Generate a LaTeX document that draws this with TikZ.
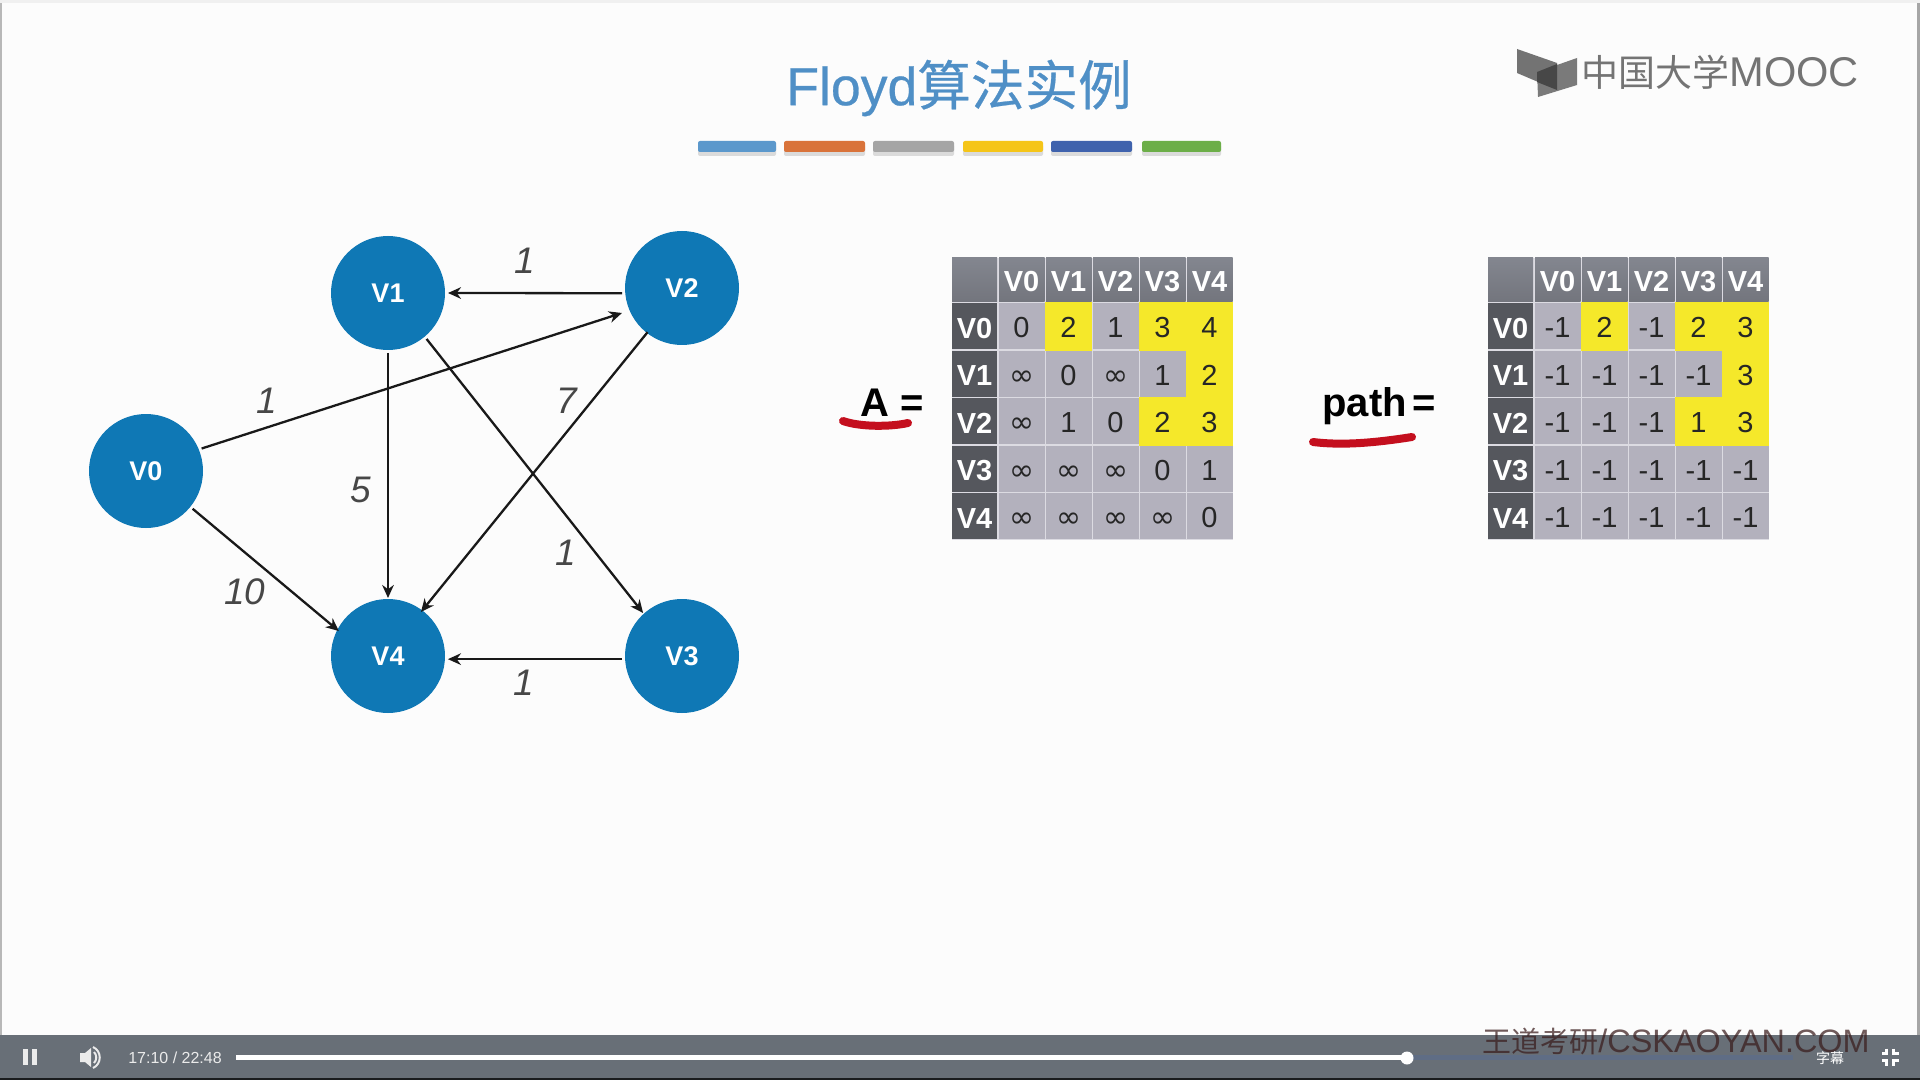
\documentclass[tikz,border=0pt]{standalone}
\usepackage{fontspec}
\setmainfont{Liberation Sans}
\newfontfamily\cjk{Noto Sans CJK SC}
\newfontfamily\cjkheavy[FakeBold=0.5]{Noto Sans CJK SC}
\newfontfamily\titlefont[FakeBold=0.5]{Liberation Sans}
\newfontfamily\dejavu{DejaVu Sans}
\usetikzlibrary{arrows.meta,calc}
\definecolor{nodeblue}{HTML}{0F78B5}
\definecolor{titleblue}{HTML}{4F8FC6}
\definecolor{cellbody}{HTML}{B3B1BD}
\definecolor{cellyellow}{HTML}{F5E82A}
\definecolor{headtop}{HTML}{83868F}
\definecolor{headbot}{HTML}{73757D}
\definecolor{rowhead}{HTML}{55575D}
\definecolor{gridline}{HTML}{DCDBE2}
\definecolor{barbg}{HTML}{686F77}
\definecolor{bufferbar}{HTML}{5F6D85}
\definecolor{inkred}{HTML}{C40F1E}
\definecolor{logogray}{HTML}{747474}
\definecolor{markink}{HTML}{3A1C1C}
\newcommand\infsym{{\dejavu\fontsize{15}{15}\selectfont ∞}}
\tikzset{
  vertex/.style={circle,fill=nodeblue,text=white,minimum size=57pt,inner sep=0pt,outer sep=1.5pt,font=\fontsize{13.5}{13.5}\selectfont\bfseries},
  edge/.style={draw=black!90,line width=1.15pt,-{Stealth[length=6.5pt,width=5.8pt]}},
  weight/.style={font=\fontsize{18.5}{18.5}\selectfont\itshape,text=black!72,inner sep=0pt},
  headtext/.style={font=\fontsize{14.5}{14.5}\selectfont\bfseries,text=white,inner sep=0pt,anchor=base},
  celltext/.style={font=\fontsize{14.5}{14.5}\selectfont,text=black!85,inner sep=0pt,anchor=base},
  eqtext/.style={font=\fontsize{20}{20}\selectfont\bfseries,text=black,inner sep=0pt,anchor=base west},
  barblock/.style={rounded corners=1pt},
  stroke/.style={draw=inkred,line width=4pt,line cap=round},
  playtext/.style={font=\fontsize{8}{8}\selectfont,text=white!92!black,inner sep=0pt},
}
\newcommand\datatable[4]{%
 \begin{scope}[shift={(#1,0)}]
  \fill[gridline] (952,258) rectangle (1233,540);
  \shade[top color=headtop,bottom color=headbot] (952,258) rectangle (997,302);
  \foreach \c/\t in {0/V0,1/V1,2/V2,3/V3,4/V4}{
    \pgfmathsetmacro\xa{998+47*\c+1}
    \pgfmathsetmacro\xb{998+47*(\c+1)-0.5}
    \pgfmathsetmacro\xm{998+47*\c+23.5}
    \shade[top color=headtop,bottom color=headbot] (\xa,258) rectangle (\xb,302);
    \node[headtext] (#4h\c) at (\xm,292) {\t};
  }
  \foreach \r/\t/\vals in {#3}{
    \pgfmathsetmacro\ya{303.5+47.4*\r}
    \pgfmathsetmacro\yb{303.5+47.4*(\r+1)-1.5}
    \pgfmathsetmacro\ym{303.5+47.4*\r+23.5}
    \pgfmathsetmacro\yh{\ym+11.5}
    \fill[rowhead] (952,\ya) rectangle (997,\yb);
    \node[headtext] (#4r\r) at (974.5,\yh) {\t};
    \foreach \v [count=\c from 0] in \vals {
      \pgfmathsetmacro\xa{998+47*\c+1}
      \pgfmathsetmacro\xb{998+47*(\c+1)-0.5}
      \fill[cellbody] (\xa,\ya) rectangle (\xb,\yb);
    }
  }
  \foreach \r/\c in {#2}{
    \pgfmathsetmacro\ya{303.5+47.4*\r-1}
    \pgfmathsetmacro\yb{303.5+47.4*(\r+1)}
    \pgfmathsetmacro\xa{998+47*\c}
    \pgfmathsetmacro\xb{998+47*(\c+1)}
    \fill[cellyellow] (\xa,\ya) rectangle (\xb,\yb);
  }
  \foreach \r/\t/\vals in {#3}{
    \pgfmathsetmacro\yt{303.5+47.4*\r+34.5}
    \foreach \v [count=\c from 0] in \vals {
      \pgfmathsetmacro\xm{998+47*\c+23.5}
      \node[celltext] (#4c\r\c) at (\xm,\yt) {\v};
    }
  }
 \end{scope}}
\begin{document}
\begin{tikzpicture}[x=0.5pt,y=-0.5pt]
\useasboundingbox (0,0) rectangle (1920,1080);
\fill[white!99!black] (0,0) rectangle (1920,1080);
\fill[black!28] (0,0) rectangle (2,1036);
\fill[black!35] (1917,0) rectangle (1920,1036);
\fill[black!6] (0,0) rectangle (1920,3);

% title
\node[inner sep=0pt,text=titleblue,font=\fontsize{26.8}{27}\selectfont] (title) at (959,88) {{\titlefont Floyd}{\cjkheavy 算法实例}};
\foreach \xa/\xb/\cc in {698/776/5B98CC,784/865/D9733A,873/954/A5A5A5,963/1043/F5C518,1051/1132/3F62AD,1142/1221/6CAE48}{
  \definecolor{barcol}{HTML}{\cc}
  \fill[black!14,barblock] (\xa,144) rectangle (\xb,156);
  \fill[barcol,barblock] (\xa,141) rectangle (\xb,152);
}

% logo
\fill[black!55] (1517,49) -- (1557,63) -- (1557,90) -- (1517,73) -- cycle;
\fill[black!52] (1537,72) -- (1577,58) -- (1577,85) -- (1538,97) -- cycle;
\fill[black!72] (1537,72) -- (1557,64) -- (1557,90) -- (1537,82) -- cycle;
\node[inner sep=0pt,anchor=west,text=logogray,font=\fontsize{18.5}{19}\selectfont] (logo) at (1581,72) {{\cjk 中国大学}{\fontsize{20.8}{21}\selectfont MOOC}};

% graph
\node[vertex] (V0) at (146,471) {V0};
\node[vertex] (V1) at (388,293) {V1};
\node[vertex] (V2) at (682,288) {V2};
\node[vertex] (V3) at (682,656) {V3};
\node[vertex] (V4) at (388,656) {V4};
\draw[edge] (V2.185) -- (V1.0);
\draw[edge,shorten >=2.5pt] (V0.22) -- (V2.203);
\draw[edge,shorten >=-1pt] (V1.-90) -- (V4.90);
\draw[edge,shorten >=-1pt] (V1.-50) -- (V3.132);
\draw[edge,shorten >=-2.5pt,shorten <=-2pt] (V2.232) -- (V4.53);
\draw[edge,shorten >=-2.5pt] (V0.-39) -- (V4.152);
\draw[edge] (V3.183) -- (V4.-3);
\node[weight] (w21) at (525,261) {1};
\node[weight] (w02) at (267,401) {1};
\node[weight] (w24) at (567,401) {7};
\node[weight] (w14) at (361,490) {5};
\node[weight] (w04) at (245,592) {10};
\node[weight] (w13) at (566,553) {1};
\node[weight] (w34) at (524,683) {1};

% equations
\node[eqtext] (eqA) at (860,416) {A\,\,\kern-1pt=};
\node[eqtext] (eqP) at (1322,416) {path\,\kern-0.5pt=};
\draw[stroke] (843,421) .. controls (860,427) and (890,427) .. (908,423);
\draw[stroke] (1313,442) .. controls (1345,446) and (1380,442) .. (1412,437);

% tables
\datatable{0}{0/1,0/3,0/4,1/4,2/3,2/4}{0/V0/{0,2,1,3,4},1/V1/{\infsym,0,\infsym,1,2},2/V2/{\infsym,1,0,2,3},3/V3/{\infsym,\infsym,\infsym,0,1},4/V4/{\infsym,\infsym,\infsym,\infsym,0}}{a}
\datatable{536}{0/1,0/3,0/4,1/4,2/3,2/4}{0/V0/{-1,2,-1,2,3},1/V1/{-1,-1,-1,-1,3},2/V2/{-1,-1,-1,1,3},3/V3/{-1,-1,-1,-1,-1},4/V4/{-1,-1,-1,-1,-1}}{p}

% player bar
\fill[barbg] (0,1035) rectangle (1920,1080);
\fill[black!75!barbg] (0,1078) rectangle (1920,1080);
\fill[white!92!black] (23,1049) rectangle (28,1065);
\fill[white!92!black] (32,1049) rectangle (37,1065);
\fill[white!92!black] (80,1053) -- (85,1053) -- (91,1048) -- (91,1067) -- (85,1062) -- (80,1062) -- cycle;
\draw[white!92!black,line width=1pt] (94,1052) .. controls (97,1055) and (97,1060) .. (94,1063);
\draw[white!92!black,line width=1pt] (93,1047) .. controls (102,1051) and (102,1064) .. (93,1068);
\node[playtext] (time) at (175,1058) {17:10 / 22:48};
\fill[bufferbar] (1407,1055) rectangle (1793,1060);
\fill[white] (236,1055) rectangle (1407,1060);
\node[circle,fill=white,minimum size=6.5pt,inner sep=0pt] (knob) at (1407,1058) {};
\node[inner sep=0pt,anchor=west,text=markink,opacity=0.72,font=\fontsize{16.2}{16}\selectfont] (mark) at (1482,1041) {{\cjk\fontsize{14.5}{16}\selectfont 王道考研}/CSKAOYAN.COM};
\node[inner sep=0pt,text=white,font=\fontsize{7}{7}\selectfont\cjk] (subs) at (1830,1058) {字幕};
\foreach \sx/\sy in {1/1,-1/1,1/-1,-1/-1}{
  \draw[white,line width=1.1pt] ({1890-\sx*3.5},{1057-\sy*8.5}) -- ({1890-\sx*3.5},{1057-\sy*3.5}) -- ({1890-\sx*8.5},{1057-\sy*3.5});
}
\end{tikzpicture}
\end{document}
